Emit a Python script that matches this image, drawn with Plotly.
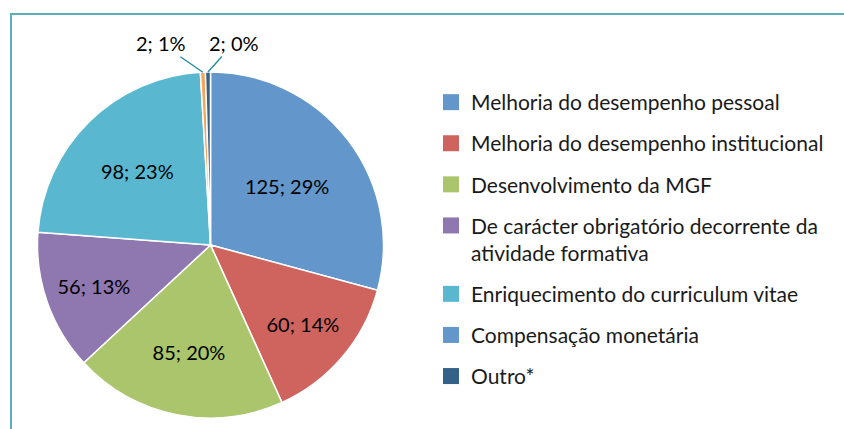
import math
import plotly.graph_objects as go

categories = [
    "Melhoria do desempenho pessoal",
    "Melhoria do desempenho institucional",
    "Desenvolvimento da MGF",
    "De carácter obrigatório decorrente da<br>atividade formativa",
    "Enriquecimento do curriculum vitae",
    "Compensação monetária",
    "Outro*",
]
values = [125, 60, 85, 56, 98, 2, 2]
pct_labels = ["29%", "14%", "20%", "13%", "23%", "1%", "0%"]
slice_colors = ["#6396CB", "#CF645E", "#AAC56C", "#8F77B0", "#59B8D0", "#F6A55B", "#336188"]
legend_colors = ["#6396CB", "#CF645E", "#AAC56C", "#8F77B0", "#59B8D0", "#6396CB", "#336188"]

W, H = 844, 429
FONT = "Lato, Open Sans, sans-serif"

# pie geometry (pixels)
cx, cy_from_bottom, r = 210.5, 184.0, 173.0
dom_x = [(cx - r) / W, (cx + r) / W]
dom_y = [(cy_from_bottom - r) / H, (cy_from_bottom + r) / H]

total = sum(values)
small = [v / total < 0.02 for v in values]
texts = ["" if s else f"{v}; {p}" for v, p, s in zip(values, pct_labels, small)]

fig = go.Figure()
fig.add_trace(go.Pie(
    labels=categories,
    values=values,
    text=texts,
    textinfo="text",
    textposition="inside",
    insidetextorientation="horizontal",
    sort=False,
    direction="clockwise",
    rotation=0,
    marker=dict(colors=slice_colors, line=dict(color="white", width=1.5)),
    insidetextfont=dict(family=FONT, size=20, color="black"),
    domain=dict(x=dom_x, y=dom_y),
    showlegend=False,
    hoverinfo="label+value+percent",
))

for i, (name, col) in enumerate(zip(categories, legend_colors)):
    fig.add_trace(go.Scatter(
        x=[None], y=[None], mode="markers", name=name,
        legendgroup=f"g{i}",
        marker=dict(symbol="square", size=16, color=col),
        showlegend=True,
    ))

# outside labels for small slices
annotations = []
cum = 0
offsets = {5: (-42, -29), 6: (26, -29)}
for i, v in enumerate(values):
    mid = (cum + v / 2) / total
    cum += v
    if not small[i]:
        continue
    theta = 2 * math.pi * mid
    px = cx + r * math.sin(theta)
    py = cy_from_bottom + r * math.cos(theta)
    ax, ay = offsets[i]
    annotations.append(dict(
        x=px / W, y=py / H, xref="paper", yref="paper",
        text=f"{v}; {pct_labels[i]}", showarrow=True,
        ax=ax, ay=ay, arrowhead=0, arrowwidth=1.3, arrowcolor="#1E8C9C",
        font=dict(family=FONT, size=20, color="black"),
    ))

fig.update_layout(
    width=W, height=H,
    margin=dict(l=0, r=0, t=0, b=0),
    paper_bgcolor="white", plot_bgcolor="white",
    xaxis=dict(visible=False), yaxis=dict(visible=False),
    font=dict(family=FONT, size=21, color="#1a1a1a"),
    legend=dict(
        x=431 / W, y=1 - 82 / H, xanchor="left", yanchor="top",
        traceorder="grouped", tracegroupgap=10.8, valign="top",
        font=dict(family=FONT, size=21, color="#1a1a1a"),
        bgcolor="rgba(0,0,0,0)",
    ),
    annotations=annotations,
    shapes=[
        dict(type="line", xref="paper", yref="paper", x0=10 / W, x1=1, y0=1 - 14 / H, y1=1 - 14 / H,
             line=dict(color="#5BAFBC", width=2)),
        dict(type="line", xref="paper", yref="paper", x0=11 / W, x1=11 / W, y0=0, y1=1 - 14 / H,
             line=dict(color="#5BAFBC", width=2)),
    ],
)

fig.write_html(
    "out.html",
    config={"displayModeBar": False},
    post_script="document.body.style.margin='0px';document.body.style.overflow='hidden';",
)
